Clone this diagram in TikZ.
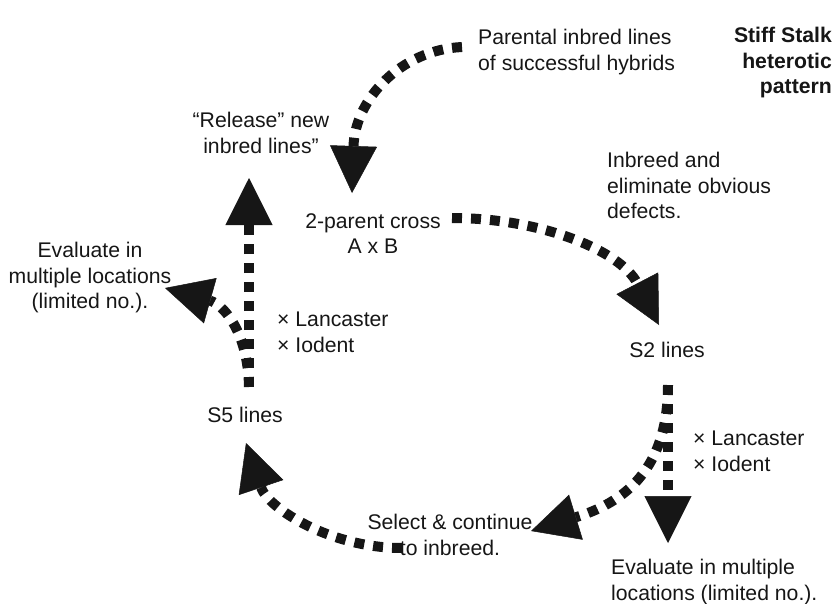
\documentclass[tikz,border=0pt]{standalone}
\usepackage{fontspec}
\setmainfont{Liberation Sans}
\usetikzlibrary{arrows.meta}
\definecolor{ink}{HTML}{161616}
\begin{document}
\begin{tikzpicture}[x=1pt,y=-1pt,
  lbl/.style={font=\fontsize{21.2}{25.5}\selectfont, text=ink, inner sep=0pt},
  flow/.style={draw=ink, line width=10pt, dash pattern=on 10pt off 9pt,
    -{Triangle[length=47pt,width=47pt,line width=0.5pt]}},
]
\useasboundingbox (0,0) rectangle (836,603);

% labels
\node[lbl, anchor=north west, align=left] (parental) at (478,29)
  {Parental inbred lines\\of successful hybrids};
\node[lbl, anchor=north east, align=right, font=\fontsize{21.2}{25.5}\selectfont\bfseries] (title) at (832,27)
  {Stiff Stalk\\heterotic\\pattern};
\node[lbl, anchor=north, align=center] (release) at (261,112)
  {“Release” new\\inbred lines”};
\node[lbl, anchor=north, align=center] (cross) at (373,213)
  {2-parent cross\\A x B};
\node[lbl, anchor=north west, align=left] (inbreed) at (607,152)
  {Inbreed and\\eliminate obvious\\defects.};
\node[lbl, anchor=north, align=center] (evalL) at (90,242)
  {Evaluate in\\multiple locations\\(limited no.).};
\node[lbl, anchor=north west, align=left] (testL) at (277,312)
  {× Lancaster\\× Iodent};
\node[lbl, anchor=north] (s2) at (667,342) {S2 lines};
\node[lbl, anchor=north] (s5) at (245,407) {S5 lines};
\node[lbl, anchor=north west, align=left] (testR) at (693,431)
  {× Lancaster\\× Iodent};
\node[lbl, anchor=north, align=center] (select) at (450,514)
  {Select \& continue\\to inbreed.};
\node[lbl, anchor=north west, align=left] (evalR) at (611,559)
  {Evaluate in multiple\\locations (limited no.).};

% connector end points
\coordinate (pStart) at (462,47);
\coordinate (crossIn) at (352,193);
\coordinate (crossOut) at (452,218);
\coordinate (s2In) at (659,325);
\coordinate (s2Out) at (668,385);
\coordinate (evalRIn) at (668,543);
\coordinate (selectIn) at (531,531);
\coordinate (selectOut) at (402,548);
\coordinate (s5In) at (246,443);
\coordinate (s5Out) at (249,387);
\coordinate (releaseIn) at (249,178);
\coordinate (evalLIn) at (165,288);

% cycle of dotted arrows
\draw[flow] (pStart) .. controls (400,50) and (355,100) .. (crossIn);
\draw[flow] (crossOut) .. controls (540,218) and (620,250) .. (s2In);
\draw[flow] (s2Out) -- (evalRIn);
\draw[flow] (s2Out) .. controls (668,462) and (632,500) .. (selectIn);
\draw[flow] (selectOut) .. controls (330,548) and (268,508) .. (s5In);
\draw[flow] (s5Out) -- (releaseIn);
\draw[flow] (s5Out) .. controls (248,330) and (222,304) .. (evalLIn);
\end{tikzpicture}
\end{document}
